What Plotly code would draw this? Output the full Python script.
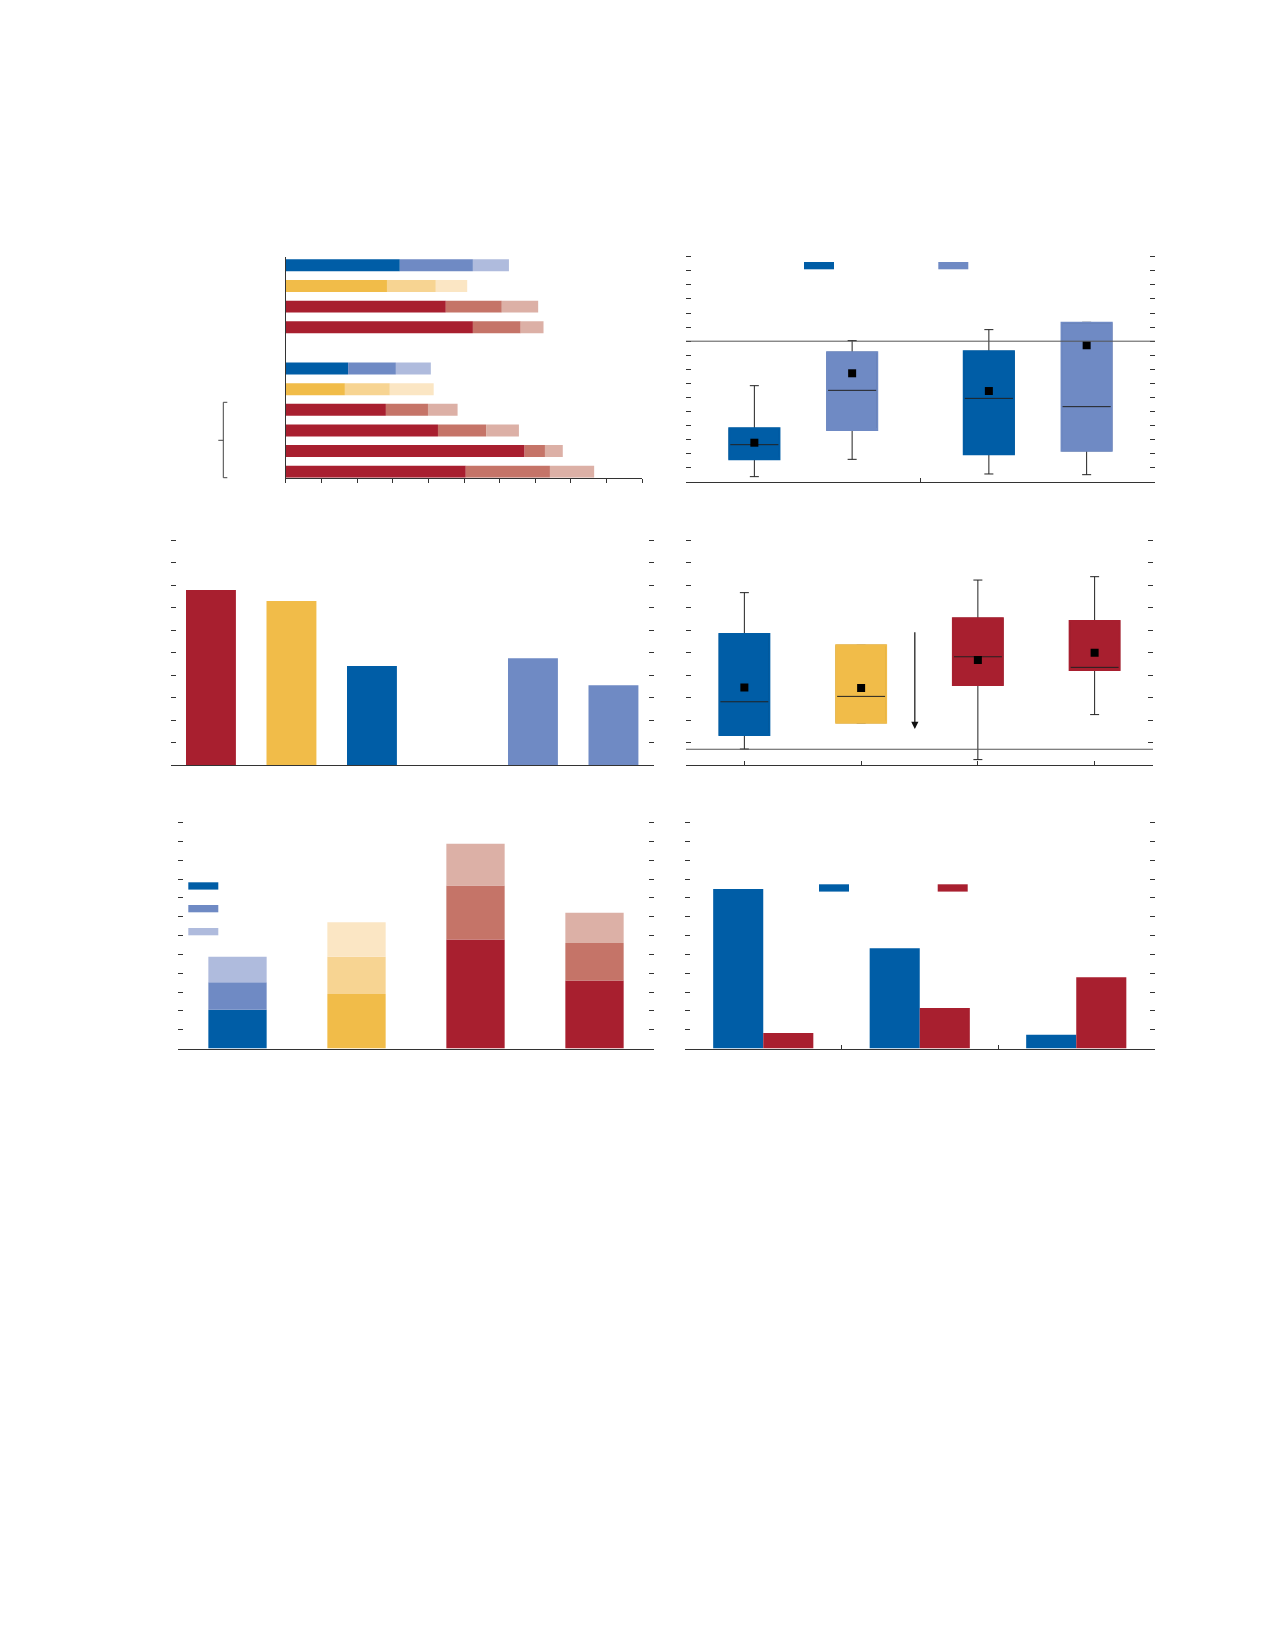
import plotly.graph_objects as go
from plotly.subplots import make_subplots

# page is 1275x1650; the html body has an 8px margin
W, H = 1275, 1650
OFF = 8
FW, FH = W - 2 * OFF, H - 2 * OFF

# ---------------- colours ----------------
BLUE = ["#005DA6", "#6F8AC4", "#AFBBDD"]
YELLOW = ["#F1BC49", "#F7D492", "#FBE6C4"]
RED = ["#A81F2F", "#C57468", "#DCB0A6"]
FAM = {"blue": BLUE, "yellow": YELLOW, "red": RED, None: ["rgba(0,0,0,0)"] * 3}
AXC = "#333333"

# ---------------- data ----------------
# Panel 1: horizontal stacked bars (three shades per bar)
p1_rows = ["r1", "r2", "r3", "r4", "gap", "r5", "r6", "r7", "r8", "r9", "r10"]
p1_seg1 = [32.0, 28.4, 44.9, 52.5, None, 17.5, 16.6, 28.1, 42.7, 67.0, 50.5]
p1_seg2 = [20.5, 13.7, 15.7, 13.4, None, 13.4, 12.6, 11.8, 13.5, 5.7, 23.6]
p1_seg3 = [10.1, 8.8, 10.2, 6.4, None, 9.8, 12.3, 8.3, 9.2, 5.0, 12.4]
p1_family = ["blue", "yellow", "red", "red", None, "blue", "yellow", "red", "red", "red", "red"]

# Panel 2: box plots, two groups x two series
p2_groups = ["A", "B"]
p2_dark_low = [-9.62, -9.43]
p2_dark_q1 = [-8.39, -8.03]
p2_dark_med = [-7.35, -4.06]
p2_dark_q3 = [-6.19, -0.72]
p2_dark_high = [-3.16, 0.82]
p2_dark_mean = [-7.21, -3.54]
p2_light_low = [-8.39, -9.48]
p2_light_q1 = [-6.31, -7.78]
p2_light_med = [-3.49, -4.65]
p2_light_q3 = [-0.79, 1.31]
p2_light_high = [0.04, 1.34]
p2_light_mean = [-2.28, -0.29]
p2_ref_line = 0.0

# Panel 3: single bars
p3_cats = ["c1", "c2", "c3", "gap", "c4", "c5"]
p3_vals = [7.78, 7.29, 4.40, None, 4.74, 3.54]
p3_colors = [RED[0], YELLOW[0], BLUE[0], "rgba(0,0,0,0)", BLUE[1], BLUE[1]]

# Panel 4: box plots
p4_cats = ["d1", "d2", "d3", "d4"]
p4_low = [0.71, 1.87, 0.24, 2.24]
p4_q1 = [1.33, 1.88, 3.56, 4.22]
p4_med = [2.81, 3.05, 4.81, 4.34]
p4_q3 = [5.82, 5.32, 6.52, 6.40]
p4_high = [7.66, 5.32, 8.22, 8.37]
p4_mean = [3.44, 3.42, 4.67, 4.99]
p4_family = ["blue", "yellow", "red", "red"]
p4_ref_line = 0.7
p4_arrow_x = 1.46
p4_arrow_from = 5.97
p4_arrow_to = 1.6

# Panel 5: vertical stacked bars
p5_cats = ["e1", "e2", "e3", "e4"]
p5_seg1 = [2.06, 2.90, 5.79, 3.61]
p5_seg2 = [1.46, 1.97, 2.87, 2.00]
p5_seg3 = [1.36, 1.84, 2.22, 1.60]
p5_family = ["blue", "yellow", "red", "red"]

# Panel 6: grouped bars
p6_cats = ["f1", "f2", "f3"]
p6_blue = [8.47, 5.33, 0.73]
p6_red = [0.83, 2.15, 3.79]


def add(a, b):
    return [None if (x is None or y is None) else x + y for x, y in zip(a, b)]


def px_x(v):
    return (v - OFF) / FW


def px_y(v):
    return 1 - (v - OFF) / FH


fig = make_subplots(rows=3, cols=2)

# ---------------- Panel 1 ----------------
bases = [[0 if v is not None else None for v in p1_seg1], p1_seg1, add(p1_seg1, p1_seg2)]
for k, seg in enumerate([p1_seg1, p1_seg2, p1_seg3]):
    fig.add_trace(go.Bar(
        orientation="h", y=p1_rows, x=seg, base=bases[k], width=0.58,
        marker=dict(color=[FAM[f][k] for f in p1_family], line=dict(width=0)),
        showlegend=False, hoverinfo="skip"), row=1, col=1)


# ---------------- box helper ----------------
def box_pair(xcats, low, q1, med, q3, high, color, og, row, col):
    fig.add_trace(go.Box(
        x=xcats, q1=q1, median=med, q3=q3, lowerfence=low, upperfence=high,
        fillcolor=color, line=dict(color="#222222", width=1), whiskerwidth=0.18,
        offsetgroup=og, boxpoints=False, showlegend=False, hoverinfo="skip"), row=row, col=col)
    fig.add_trace(go.Box(
        x=xcats, q1=q1, median=q1, q3=q3, lowerfence=q1, upperfence=q3,
        fillcolor="rgba(0,0,0,0)", line=dict(color=color, width=2), whiskerwidth=0,
        offsetgroup=og, boxpoints=False, showlegend=False, hoverinfo="skip"), row=row, col=col)


# ---------------- Panel 2 ----------------
box_pair(p2_groups, p2_dark_low, p2_dark_q1, p2_dark_med, p2_dark_q3, p2_dark_high, BLUE[0], "d", 1, 2)
box_pair(p2_groups, p2_light_low, p2_light_q1, p2_light_med, p2_light_q3, p2_light_high, BLUE[1], "l", 1, 2)
for og, mean in [("d", p2_dark_mean), ("l", p2_light_mean)]:
    fig.add_trace(go.Scatter(
        x=p2_groups, y=mean, mode="markers", offsetgroup=og,
        marker=dict(symbol="square", size=8, color="black"),
        showlegend=False, hoverinfo="skip"), row=1, col=2)

# ---------------- Panel 3 ----------------
fig.add_trace(go.Bar(
    x=p3_cats, y=p3_vals, width=0.62, marker=dict(color=p3_colors, line=dict(width=0)),
    showlegend=False, hoverinfo="skip"), row=2, col=1)

# ---------------- Panel 4 ----------------
for i, cat in enumerate(p4_cats):
    box_pair([cat], [p4_low[i]], [p4_q1[i]], [p4_med[i]], [p4_q3[i]], [p4_high[i]],
             FAM[p4_family[i]][0], "p4", 2, 2)
fig.add_trace(go.Scatter(
    x=p4_cats, y=p4_mean, mode="markers", offsetgroup="p4",
    marker=dict(symbol="square", size=8, color="black"),
    showlegend=False, hoverinfo="skip"), row=2, col=2)

# ---------------- Panel 5 ----------------
bases5 = [[0] * len(p5_seg1), p5_seg1, add(p5_seg1, p5_seg2)]
for k, seg in enumerate([p5_seg1, p5_seg2, p5_seg3]):
    fig.add_trace(go.Bar(
        x=p5_cats, y=seg, base=bases5[k], width=0.49,
        marker=dict(color=[FAM[f][k] for f in p5_family], line=dict(width=0)),
        showlegend=False, hoverinfo="skip"), row=3, col=1)

# ---------------- Panel 6 ----------------
fig.add_trace(go.Bar(x=p6_cats, y=p6_blue, width=0.32, offset=-0.32,
                     marker=dict(color=BLUE[0], line=dict(width=0)),
                     showlegend=False, hoverinfo="skip"), row=3, col=2)
fig.add_trace(go.Bar(x=p6_cats, y=p6_red, width=0.32, offset=0,
                     marker=dict(color=RED[0], line=dict(width=0)),
                     showlegend=False, hoverinfo="skip"), row=3, col=2)

# ---------------- axes ----------------
common = dict(showticklabels=False, showgrid=False, zeroline=False, tickcolor=AXC, tickwidth=1)
yv = dict(common, ticks="inside", ticklen=5, mirror="ticks", showline=False,
          tickmode="linear", tick0=0, dtick=1)
EPS = 0.12  # small headroom so the top tick is drawn


def vdomain(bottom_px, top_tick_px, lo, hi):
    per = (bottom_px - top_tick_px) / (hi - lo)
    return [px_y(bottom_px), px_y(top_tick_px - EPS * per)], [lo, hi + EPS]


d2, r2 = vdomain(482, 256.7, -10, 6)
d3, r3 = vdomain(765, 540, 0, 10)
d5, r5 = vdomain(1048.5, 822.7, 0, 12)

fig.update_layout(
    width=FW, height=FH, margin=dict(l=0, r=0, t=0, b=0),
    paper_bgcolor="white", plot_bgcolor="white",
    barmode="overlay", boxmode="group", boxgap=0.166, boxgroupgap=0.487,
    scattermode="group", scattergap=0.166,
    showlegend=False,
    xaxis=dict(common, domain=[px_x(285.7), px_x(642.3)], range=[0, 100], dtick=10,
               ticks="outside", ticklen=4, showline=True, linecolor=AXC, linewidth=1),
    yaxis=dict(common, domain=[px_y(477.7), px_y(257.3)], type="category",
               categoryorder="array", categoryarray=p1_rows, range=[10.29, -0.39],
               ticks="", showline=True, linecolor=AXC, linewidth=1),
    xaxis2=dict(common, domain=[px_x(686), px_x(1155)], type="category",
                categoryorder="array", categoryarray=p2_groups, range=[-0.5, 1.5],
                tickson="boundaries", ticks="inside", ticklen=4,
                showline=True, linecolor=AXC, linewidth=1),
    yaxis2=dict(yv, domain=d2, range=r2),
    xaxis3=dict(common, domain=[px_x(170.7), px_x(653.7)], type="category",
                categoryorder="array", categoryarray=p3_cats, range=[-0.5, 5.5],
                ticks="", showline=True, linecolor=AXC, linewidth=1),
    yaxis3=dict(yv, domain=d3, range=r3),
    xaxis4=dict(common, domain=[px_x(686), px_x(1153)], type="category",
                categoryorder="array", categoryarray=p4_cats, range=[-0.5, 3.5],
                ticks="inside", ticklen=4, showline=True, linecolor=AXC, linewidth=1),
    yaxis4=dict(yv, domain=d3, range=r3),
    xaxis5=dict(common, domain=[px_x(178), px_x(654)], type="category",
                categoryorder="array", categoryarray=p5_cats, range=[-0.5, 3.5],
                ticks="", showline=True, linecolor=AXC, linewidth=1),
    yaxis5=dict(yv, domain=d5, range=r5),
    xaxis6=dict(common, domain=[px_x(685), px_x(1154.5)], type="category",
                categoryorder="array", categoryarray=p6_cats, range=[-0.5, 2.5],
                tickson="boundaries", ticks="inside", ticklen=4,
                showline=True, linecolor=AXC, linewidth=1),
    yaxis6=dict(yv, domain=d5, range=r5),
)

# reference lines
fig.add_shape(type="line", xref="x2 domain", yref="y2", x0=0, x1=1,
              y0=p2_ref_line, y1=p2_ref_line, line=dict(color="#555555", width=1))
fig.add_shape(type="line", xref="x4 domain", yref="y4", x0=0, x1=1,
              y0=p4_ref_line, y1=p4_ref_line, line=dict(color="#555555", width=1))

# arrow in panel 4
fig.add_annotation(x=p4_arrow_x, y=p4_arrow_to, ax=p4_arrow_x, ay=p4_arrow_from,
                   xref="x4", yref="y4", axref="x4", ayref="y4", text="",
                   showarrow=True, arrowhead=2, arrowsize=1.2, arrowwidth=1.2,
                   arrowcolor="#111111")

# bracket in panel 1
bx, bt, bm, bb = 223.3, 402.3, 440.3, 477.7
path = (f"M {px_x(bx + 4)},{px_y(bt)} L {px_x(bx)},{px_y(bt)} L {px_x(bx)},{px_y(bb)} "
        f"L {px_x(bx + 4)},{px_y(bb)} M {px_x(bx)},{px_y(bm)} L {px_x(bx - 5)},{px_y(bm)}")
fig.add_shape(type="path", xref="paper", yref="paper", path=path,
              line=dict(color="#444444", width=1))

# legend swatches (keys without text)
swatches = [
    (804, 262, BLUE[0]), (938.3, 262, BLUE[1]),
    (188.3, 882.3, BLUE[0]), (188.3, 905, BLUE[1]), (188.3, 928, BLUE[2]),
    (819, 884.3, BLUE[0]), (937.7, 884.3, RED[0]),
]
for sx, sy, c in swatches:
    fig.add_shape(type="rect", xref="paper", yref="paper",
                  x0=px_x(sx), x1=px_x(sx + 30), y0=px_y(sy + 7.3), y1=px_y(sy),
                  fillcolor=c, line=dict(width=0))

fig.write_html("out.html")
